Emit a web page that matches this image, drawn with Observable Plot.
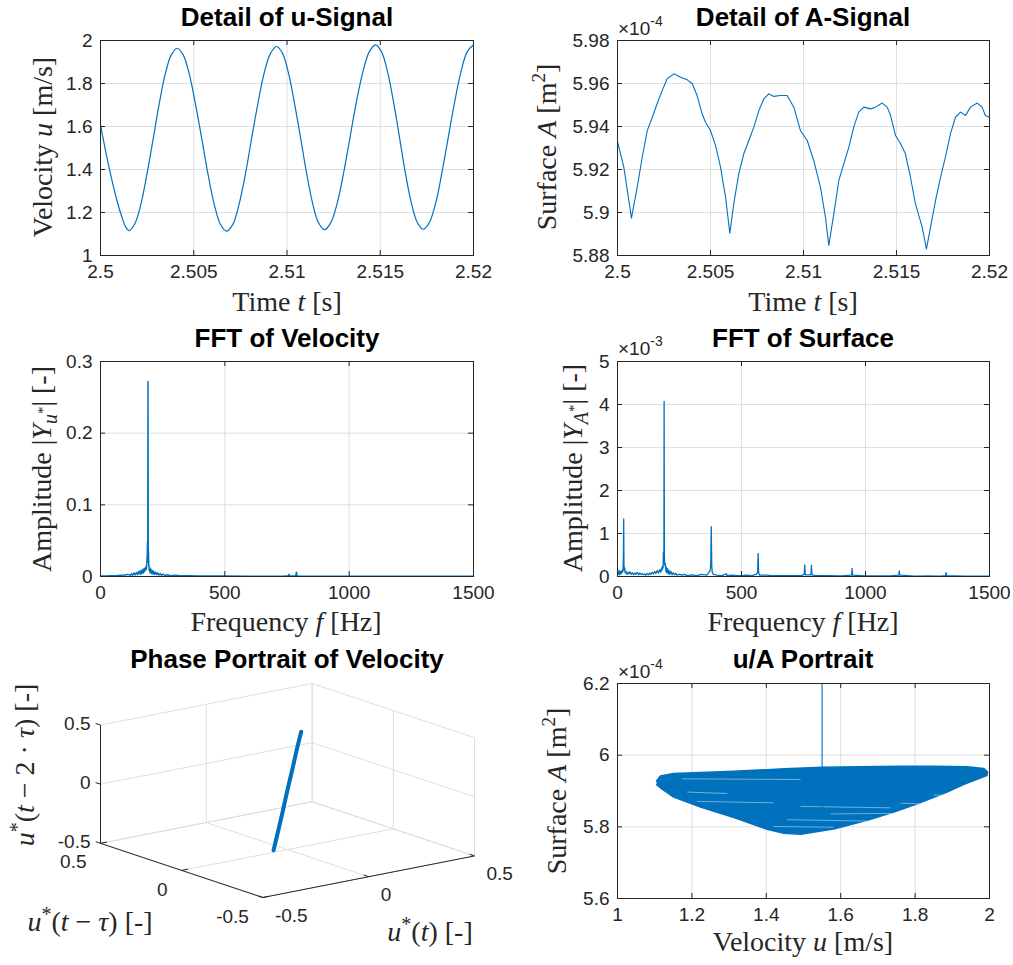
<!DOCTYPE html>
<html><head><meta charset="utf-8">
<script src="https://cdn.jsdelivr.net/npm/d3@7"></script>
<script src="https://cdn.jsdelivr.net/npm/@observablehq/plot@0.6"></script>
<style>
body{margin:0;background:#fff;}
#root{position:relative;width:1013px;height:965px;background:#fff;overflow:hidden;}
#root svg{position:absolute;margin:0;max-width:none;}
</style></head><body><div id="root"></div>
<script>
// ---------------- DATA ----------------
// Panel 1: detail of u-signal
const uTime = [2.50000,2.50030,2.50060,2.50090,2.50115,2.50135,2.50152,
  2.50184,2.50217,2.50249,2.50282,2.50314,2.50346,2.50379,2.50411,
  2.50444,2.50477,2.50510,2.50544,2.50577,2.50610,2.50643,2.50676,
  2.50710,2.50743,2.50777,2.50810,2.50844,2.50877,2.50911,2.50944,
  2.50976,2.51008,2.51040,2.51073,2.51105,2.51137,2.51169,2.51201,
  2.51235,2.51270,2.51304,2.51338,2.51372,2.51407,2.51441,2.51475,
  2.51507,2.51539,2.51571,2.51603,2.51634,2.51666,2.51698,2.51730,
  2.51764,2.51798,2.51831,2.51865,2.51899,2.51933,2.51966,2.52000];
const uVel = [1.606,1.475,1.355,1.250,1.178,1.133,1.116,
  1.148,1.240,1.378,1.540,1.702,1.840,1.932,1.964,
  1.932,1.840,1.701,1.539,1.376,1.237,1.145,1.113,
  1.146,1.238,1.378,1.543,1.707,1.847,1.939,1.972,
  1.940,1.848,1.709,1.546,1.383,1.244,1.152,1.120,
  1.153,1.246,1.386,1.550,1.714,1.854,1.947,1.980,
  1.947,1.855,1.715,1.551,1.387,1.247,1.155,1.122,
  1.155,1.247,1.387,1.551,1.715,1.855,1.947,1.980];

// Panel 2: detail of A-signal (values in 1e-4 m^2)
const aTime = [2.50000,2.50034,2.50075,2.50106,2.50133,2.50160,2.50187,2.50213,2.50240,2.50267,
  2.50303,2.50339,2.50375,2.50402,2.50428,2.50455,2.50473,2.50500,2.50527,2.50554,
  2.50581,2.50604,2.50625,2.50652,2.50679,2.50706,2.50733,2.50760,2.50787,2.50813,
  2.50840,2.50876,2.50912,2.50948,2.50984,2.51020,2.51055,2.51091,2.51118,2.51136,
  2.51163,2.51190,2.51217,2.51244,2.51270,2.51297,2.51324,2.51360,2.51387,2.51423,
  2.51450,2.51468,2.51495,2.51522,2.51548,2.51575,2.51602,2.51638,2.51661,2.51683,
  2.51710,2.51737,2.51763,2.51790,2.51817,2.51844,2.51871,2.51898,2.51934,2.51960,
  2.51978,2.52000];
const aSurf = [5.9330,5.9211,5.8974,5.9118,5.9257,5.9381,5.9443,5.9506,5.9567,5.9622,
  5.9645,5.9629,5.9617,5.9599,5.9544,5.9459,5.9420,5.9381,5.9312,5.9211,
  5.9071,5.8904,5.9040,5.9180,5.9273,5.9335,5.9397,5.9474,5.9529,5.9552,
  5.9540,5.9544,5.9544,5.9490,5.9380,5.9335,5.9242,5.9118,5.8978,5.8847,
  5.8994,5.9149,5.9227,5.9304,5.9397,5.9467,5.9490,5.9482,5.9490,5.9509,
  5.9490,5.9451,5.9358,5.9320,5.9273,5.9164,5.9040,5.8932,5.8831,5.8932,
  5.9056,5.9164,5.9257,5.9366,5.9443,5.9467,5.9451,5.9490,5.9509,5.9490,
  5.9451,5.9443];

// Panel 3: FFT of velocity
const fftVelF = [0,20,40,60,80,100,110,120,125,130,135,140,145,150,155,160,163,166,169,172,175,178,181,184,186,188,189,190,191,192,193,194,195,196,198,200,203,206,209,212,215,218,222,226,230,235,240,245,250,260,270,280,300,320,350,400,500,600,700,740,755,758,760,770,785,788,790,795,800,900,1000,1200,1500];
const fftVelAmp = [0.0008,0.0006,0.0010,0.0012,0.0018,0.0020,0.0030,0.0015,0.0040,0.0018,0.0050,0.0022,0.0060,0.0025,0.0075,0.0030,0.0085,0.0040,0.0095,0.0050,0.0110,0.0070,0.0130,0.0100,0.0170,0.0300,0.0480,0.0250,0.2720,0.0200,0.0350,0.0150,0.0160,0.0080,0.0120,0.0050,0.0100,0.0040,0.0085,0.0035,0.0070,0.0030,0.0060,0.0025,0.0050,0.0020,0.0040,0.0018,0.0032,0.0015,0.0025,0.0012,0.0018,0.0010,0.0012,0.0008,0.0006,0.0005,0.0005,0.0006,0.0010,0.0030,0.0008,0.0006,0.0010,0.0060,0.0012,0.0006,0.0005,0.0004,0.0004,0.0003,0.0003];

// Panel 4: FFT of surface (values in 1e-3)
const fftSurfF = [0,3,6,9,12,15,18,21,23,24,25,26,27,29,31,34,38,42,46,50,55,60,65,70,75,80,85,90,95,100,105,110,115,120,125,130,135,140,145,150,155,160,165,170,175,178,180,182,184,185,186,187,188,189,190,191,193,195,197,199,202,205,208,211,215,220,225,230,235,240,250,260,270,280,300,320,340,360,370,374,376,378,380,382,386,400,420,440,441,460,480,500,520,540,560,565,567,569,573,600,620,650,700,740,753,755,757,780,782,784,800,850,900,944,946,948,1000,1100,1134,1136,1138,1200,1250,1300,1323,1325,1327,1400,1500];
const fftSurfAmp = [0.10,0.05,0.15,0.04,0.12,0.06,0.14,0.10,0.25,0.60,1.34,0.30,0.15,0.20,0.08,0.12,0.05,0.10,0.06,0.11,0.05,0.09,0.04,0.08,0.05,0.10,0.04,0.08,0.05,0.07,0.04,0.06,0.03,0.07,0.04,0.08,0.05,0.10,0.06,0.12,0.07,0.14,0.08,0.16,0.10,0.20,0.15,0.25,0.20,0.57,0.30,0.45,4.07,0.50,0.35,0.25,0.30,0.12,0.22,0.08,0.18,0.06,0.14,0.05,0.12,0.04,0.09,0.04,0.07,0.03,0.05,0.03,0.05,0.02,0.04,0.02,0.05,0.03,0.10,0.15,0.30,1.16,0.25,0.10,0.05,0.03,0.02,0.06,0.02,0.03,0.02,0.02,0.03,0.02,0.05,0.10,0.54,0.10,0.03,0.03,0.02,0.02,0.02,0.02,0.05,0.27,0.04,0.04,0.26,0.04,0.02,0.02,0.015,0.03,0.19,0.03,0.015,0.015,0.03,0.13,0.03,0.01,0.015,0.01,0.02,0.09,0.02,0.01,0.01];

// Panel 5: phase portrait u*(t), u*(t-tau), u*(t-2tau)
const phaseU     = [-0.280,-0.200,-0.100,0.000,0.100,0.200,0.275];
const phaseUTau  = [-0.279,-0.200,-0.100,0.001,0.100,0.201,0.274];
const phaseUTau2 = [-0.279,-0.199,-0.101,0.000,0.101,0.199,0.275];
const phaseTicks = [-0.5, 0, 0.5];
const phaseTickLabels = ["-0.5", "0", "0.5"];

// Panel 6: u/A portrait (A in 1e-4 m^2) — outline of the dense loop band
const blobU = [1.105,1.115,1.151,1.313,1.450,1.550,1.650,1.761,1.850,1.940,1.985,1.995,1.993,
  1.975,1.930,1.886,1.806,1.743,1.671,1.581,1.492,1.447,1.402,1.313,1.223,1.151,1.120,1.105];
const blobA = [5.928,5.942,5.949,5.955,5.962,5.966,5.968,5.969,5.969,5.968,5.963,5.953,5.943,
  5.936,5.918,5.897,5.864,5.841,5.818,5.794,5.779,5.782,5.793,5.826,5.855,5.883,5.905,5.918];
const spikeU = [1.55, 1.55];
const spikeA = [5.84, 6.20];
const gapU1 = [1.174,1.761,1.492,1.573,1.456,1.419,1.187,1.214,1.850];
const gapU2 = [1.492,1.876,1.734,1.815,1.671,1.581,1.295,1.420,1.940];
const gapA1 = [5.934,5.866,5.857,5.836,5.820,5.801,5.897,5.871,5.889];
const gapA2 = [5.932,5.862,5.853,5.838,5.816,5.799,5.893,5.867,5.885];

// Tick values and labels
const timeTicks = [2.5, 2.505, 2.51, 2.515, 2.52];
const timeTickLabels = ["2.5", "2.505", "2.51", "2.515", "2.52"];
const velTicks = [1, 1.2, 1.4, 1.6, 1.8, 2];
const velTickLabels = ["1", "1.2", "1.4", "1.6", "1.8", "2"];
const surfTicks = [5.88, 5.90, 5.92, 5.94, 5.96, 5.98];
const surfTickLabels = ["5.88", "5.9", "5.92", "5.94", "5.96", "5.98"];
const freqTicks = [0, 500, 1000, 1500];
const freqTickLabels = ["0", "500", "1000", "1500"];
const ampVelTicks = [0, 0.1, 0.2, 0.3];
const ampVelTickLabels = ["0", "0.1", "0.2", "0.3"];
const ampSurfTicks = [0, 1, 2, 3, 4, 5];
const ampSurfTickLabels = ["0", "1", "2", "3", "4", "5"];
const portTicksU = [1, 1.2, 1.4, 1.6, 1.8, 2];
const portTickLabelsU = ["1", "1.2", "1.4", "1.6", "1.8", "2"];
const portTicksA = [5.6, 5.8, 6.0, 6.2];
const portTickLabelsA = ["5.6", "5.8", "6", "6.2"];

// ---------------- STYLE ----------------
const SANS = "'Liberation Sans', Arial, Helvetica, sans-serif";
const SERIF = "'Liberation Serif', 'Times New Roman', serif";
const BLUE = "#0072BD", GRID = "#dfdfdf", AX = "#262626", TXT = "#262626";
const TICK = 5;
const root = document.getElementById("root");

function place(svg, left, top) {
  svg.style.position = "absolute";
  svg.style.left = left + "px";
  svg.style.top = top + "px";
  svg.style.background = "transparent";
  root.appendChild(svg);
}

function panel2D(o) {
  const pw = o.width - o.mL - o.mR, ph = o.height - o.mT - o.mB;
  const [x0, x1] = o.xDomain, [y0, y1] = o.yDomain;
  const kx = (x1 - x0) * TICK / pw, ky = (y1 - y0) * TICK / ph;
  const xt = o.xTicks.map((v, i) => ({v, label: o.xTickLabels[i]}));
  const yt = o.yTicks.map((v, i) => ({v, label: o.yTickLabels[i]}));
  const svg = Plot.plot({
    width: o.width, height: o.height,
    marginLeft: o.mL, marginRight: o.mR, marginTop: o.mT, marginBottom: o.mB,
    x: {type: "linear", domain: o.xDomain, axis: null},
    y: {type: "linear", domain: o.yDomain, axis: null},
    style: {fontFamily: SANS, fontSize: "19px", color: TXT, background: "transparent", overflow: "visible"},
    marks: [
      Plot.ruleX(o.xTicks, {stroke: GRID, strokeWidth: 1}),
      Plot.ruleY(o.yTicks, {stroke: GRID, strokeWidth: 1}),
      ...o.marks,
      Plot.ruleX(o.xTicks, {y1: y0, y2: y0 + ky, stroke: AX}),
      Plot.ruleX(o.xTicks, {y1: y1, y2: y1 - ky, stroke: AX}),
      Plot.ruleY(o.yTicks, {x1: x0, x2: x0 + kx, stroke: AX}),
      Plot.ruleY(o.yTicks, {x1: x1, x2: x1 - kx, stroke: AX}),
      Plot.frame({stroke: AX, strokeWidth: 1}),
      Plot.text(xt, {x: "v", text: "label", frameAnchor: "bottom", dy: 22, fill: TXT}),
      Plot.text(yt, {y: "v", text: "label", frameAnchor: "left", textAnchor: "end", dx: -8, fill: TXT})
    ]
  });
  place(svg, o.left, o.top);
}

// Panel 1
panel2D({
  left: 0, top: 0, width: 506, height: 320, mL: 100, mR: 33, mT: 40, mB: 65,
  xDomain: [2.5, 2.52], yDomain: [1, 2],
  xTicks: timeTicks, xTickLabels: timeTickLabels, yTicks: velTicks, yTickLabels: velTickLabels,
  marks: [Plot.line(uTime.map((t, i) => ({t, v: uVel[i]})), {x: "t", y: "v", stroke: BLUE, strokeWidth: 1.2, curve: "catmull-rom"})]
});

// Panel 2
panel2D({
  left: 506, top: 0, width: 507, height: 320, mL: 111, mR: 24, mT: 40, mB: 65,
  xDomain: [2.5, 2.52], yDomain: [5.88, 5.98],
  xTicks: timeTicks, xTickLabels: timeTickLabels, yTicks: surfTicks, yTickLabels: surfTickLabels,
  marks: [Plot.line(aTime.map((t, i) => ({t, v: aSurf[i]})), {x: "t", y: "v", stroke: BLUE, strokeWidth: 1.1})]
});

// Panel 3
panel2D({
  left: 0, top: 320, width: 506, height: 320, mL: 100, mR: 33, mT: 41, mB: 64,
  xDomain: [0, 1500], yDomain: [0, 0.3],
  xTicks: freqTicks, xTickLabels: freqTickLabels, yTicks: ampVelTicks, yTickLabels: ampVelTickLabels,
  marks: [Plot.line(fftVelF.map((f, i) => ({f, a: fftVelAmp[i]})), {x: "f", y: "a", stroke: BLUE, strokeWidth: 1.5})]
});

// Panel 4
panel2D({
  left: 506, top: 320, width: 507, height: 320, mL: 111, mR: 24, mT: 41, mB: 64,
  xDomain: [0, 1500], yDomain: [0, 5],
  xTicks: freqTicks, xTickLabels: freqTickLabels, yTicks: ampSurfTicks, yTickLabels: ampSurfTickLabels,
  marks: [Plot.line(fftSurfF.map((f, i) => ({f, a: fftSurfAmp[i]})), {x: "f", y: "a", stroke: BLUE, strokeWidth: 1.3})]
});

// Panel 6
panel2D({
  left: 506, top: 640, width: 507, height: 325, mL: 111, mR: 24, mT: 43, mB: 67,
  xDomain: [1, 2], yDomain: [5.6, 6.2],
  xTicks: portTicksU, xTickLabels: portTickLabelsU, yTicks: portTicksA, yTickLabels: portTickLabelsA,
  marks: [
    Plot.line(blobU.map((u, i) => ({u, a: blobA[i]})), {x: "u", y: "a", fill: BLUE, stroke: BLUE, strokeWidth: 1.5, strokeLinejoin: "round", clip: true}),
    Plot.link(gapU1.map((u, i) => ({u1: u, u2: gapU2[i], a1: gapA1[i], a2: gapA2[i]})), {x1: "u1", x2: "u2", y1: "a1", y2: "a2", stroke: "white", strokeWidth: 0.8, strokeOpacity: 0.55}),
    Plot.line(spikeU.map((u, i) => ({u, a: spikeA[i]})), {x: "u", y: "a", stroke: BLUE, strokeWidth: 1.1, clip: true})
  ]
});

// Panel 5: 3-D phase portrait, projected with the default 3-D view (az -37.5°, el 30°)
(function () {
  const AZ = -37.5 * Math.PI / 180, EL = 30 * Math.PI / 180;
  const px = (p) => Math.cos(AZ) * p[0] + Math.sin(AZ) * p[1];
  const py = (p) => -Math.sin(EL) * Math.sin(AZ) * p[0] + Math.sin(EL) * Math.cos(AZ) * p[1] + Math.cos(EL) * p[2];
  const lo = phaseTicks[0], hi = phaseTicks[phaseTicks.length - 1];
  const corners = [];
  for (const a of [lo, hi]) for (const b of [lo, hi]) for (const c of [lo, hi]) corners.push([a, b, c]);
  const xDom = d3.extent(corners, px), yDom = d3.extent(corners, py);
  const seg = (a, b) => ({x1: px(a), y1: py(a), x2: px(b), y2: py(b)});
  const grid = [];
  for (const t of phaseTicks) {
    grid.push(seg([t, lo, lo], [t, hi, lo]));
    grid.push(seg([lo, t, lo], [hi, t, lo]));
    grid.push(seg([t, hi, lo], [t, hi, hi]));
    grid.push(seg([lo, hi, t], [hi, hi, t]));
    grid.push(seg([hi, t, lo], [hi, t, hi]));
    grid.push(seg([hi, lo, t], [hi, hi, t]));
  }
  const axes = [seg([lo, lo, lo], [hi, lo, lo]), seg([lo, hi, lo], [lo, lo, lo]), seg([lo, hi, lo], [lo, hi, hi])];
  const tl = 0.03 * (hi - lo);
  const ticks = [];
  phaseTicks.forEach(t => {
    ticks.push(seg([t, lo, lo], [t, lo + tl, lo]));
    ticks.push(seg([lo, t, lo], [lo + tl, t, lo]));
    ticks.push(seg([lo, hi, t], [lo, hi + tl, t]));
  });
  const xLab = phaseTicks.map((t, i) => ({x: px([t, lo, lo]), y: py([t, lo, lo]), s: phaseTickLabels[i]}));
  const yLab = phaseTicks.map((t, i) => ({x: px([lo, t, lo]), y: py([lo, t, lo]), s: phaseTickLabels[i]}));
  const zLab = phaseTicks.map((t, i) => ({x: px([lo, hi, t]), y: py([lo, hi, t]), s: phaseTickLabels[i]}));
  const pts = phaseU.map((u, i) => { const p = [u, phaseUTau[i], phaseUTau2[i]]; return {x: px(p), y: py(p)}; });
  const svg = Plot.plot({
    width: 506, height: 325, marginLeft: 100, marginRight: 32, marginTop: 43, marginBottom: 68,
    x: {type: "linear", domain: xDom, axis: null},
    y: {type: "linear", domain: yDom, axis: null},
    style: {fontFamily: SANS, fontSize: "19px", color: TXT, background: "transparent", overflow: "visible"},
    marks: [
      Plot.link(grid, {x1: "x1", y1: "y1", x2: "x2", y2: "y2", stroke: GRID, strokeWidth: 1}),
      Plot.link(axes, {x1: "x1", y1: "y1", x2: "x2", y2: "y2", stroke: AX, strokeWidth: 1}),
      Plot.link(ticks, {x1: "x1", y1: "y1", x2: "x2", y2: "y2", stroke: AX, strokeWidth: 1}),
      Plot.line(pts, {x: "x", y: "y", stroke: BLUE, strokeWidth: 4, strokeLinecap: "round"}),
      Plot.text(xLab, {x: "x", y: "y", text: "s", textAnchor: "start", dx: 12, dy: 18, fill: TXT}),
      Plot.text(yLab, {x: "x", y: "y", text: "s", textAnchor: "end", dx: -14, dy: 19, fill: TXT}),
      Plot.text(zLab, {x: "x", y: "y", text: "s", textAnchor: "end", dx: -10, dy: -1, fill: TXT})
    ]
  });
  place(svg, 0, 640);
})();

// ---------------- TITLES & AXIS LABELS ----------------
const overlay = d3.create("svg").attr("width", 1013).attr("height", 965)
  .style("position", "absolute").style("left", "0px").style("top", "0px").style("pointer-events", "none");
function rich(parts, o) {
  const t = overlay.append("text")
    .attr("transform", `translate(${o.x},${o.y}) rotate(${o.rotate || 0})`)
    .attr("text-anchor", o.anchor || "middle")
    .attr("font-family", o.family || SERIF)
    .attr("font-size", o.size || 28)
    .attr("font-weight", o.weight || "normal")
    .attr("fill", o.fill || TXT)
    .style("white-space", "pre");
  let cur = 0;
  for (const p of parts) {
    const sh = p.sh || 0;
    const ts = t.append("tspan").text(p.t).attr("dy", cur - sh);
    if (p.i) ts.attr("font-style", "italic");
    if (p.s) ts.attr("font-size", p.s);
    cur = sh;
  }
}
const titles = [
  ["Detail of u-Signal", 287, 26], ["Detail of A-Signal", 803, 26],
  ["FFT of Velocity", 287, 347], ["FFT of Surface", 803, 347],
  ["Phase Portrait of Velocity", 287, 668], ["u/A Portrait", 803, 668]
];
titles.forEach(([s, x, y]) => rich([{t: s}], {x, y, family: SANS, size: 26, weight: "bold", fill: "#000"}));

const labTime = [{t: "Time "}, {t: "t", i: true}, {t: " [s]"}];
const labFreq = [{t: "Frequency "}, {t: "f", i: true}, {t: " [Hz]"}];
const labVel = [{t: "Velocity "}, {t: "u", i: true}, {t: " [m/s]"}];
const labSurf = [{t: "Surface "}, {t: "A", i: true}, {t: " [m"}, {t: "2", s: 19, sh: 11}, {t: "]"}];
const labAmpU = [{t: "Amplitude |"}, {t: "Y", i: true}, {t: "u", i: true, s: 20, sh: -6}, {t: "*", s: 15, sh: 3}, {t: "| [-]"}];
const labAmpA = [{t: "Amplitude |"}, {t: "Y", i: true}, {t: "A", i: true, s: 20, sh: -6}, {t: "*", s: 15, sh: 3}, {t: "| [-]"}];

rich(labTime, {x: 287, y: 311});
rich(labTime, {x: 803, y: 311});
rich(labFreq, {x: 286, y: 631});
rich(labFreq, {x: 803, y: 631});
rich(labVel, {x: 803, y: 951});
rich(labVel, {x: 52, y: 147, rotate: -90});
rich(labSurf, {x: 556, y: 147, rotate: -90});
rich(labAmpU, {x: 51, y: 469, rotate: -90});
rich(labAmpA, {x: 582, y: 468, rotate: -90});
rich(labSurf, {x: 566, y: 791, rotate: -90});

rich([{t: "u", i: true}, {t: "*", s: 20, sh: 10}, {t: "("}, {t: "t", i: true}, {t: ") [-]"}], {x: 430, y: 941});
rich([{t: "u", i: true}, {t: "*", s: 20, sh: 10}, {t: "("}, {t: "t", i: true}, {t: " − "}, {t: "τ", i: true}, {t: ") [-]"}], {x: 90, y: 931});
rich([{t: "u", i: true}, {t: "*", s: 20, sh: 10}, {t: "("}, {t: "t", i: true}, {t: " − 2 · "}, {t: "τ", i: true}, {t: ") [-]"}], {x: 34, y: 765, rotate: -90});

const expo = (e, x, y) => rich([{t: "×10", s: 19}, {t: e, s: 14, sh: 9}], {x, y, anchor: "start", family: SANS, size: 19});
expo("-4", 618, 35);
expo("-3", 618, 355);
expo("-4", 618, 678);

root.appendChild(overlay.node());
</script></body></html>
